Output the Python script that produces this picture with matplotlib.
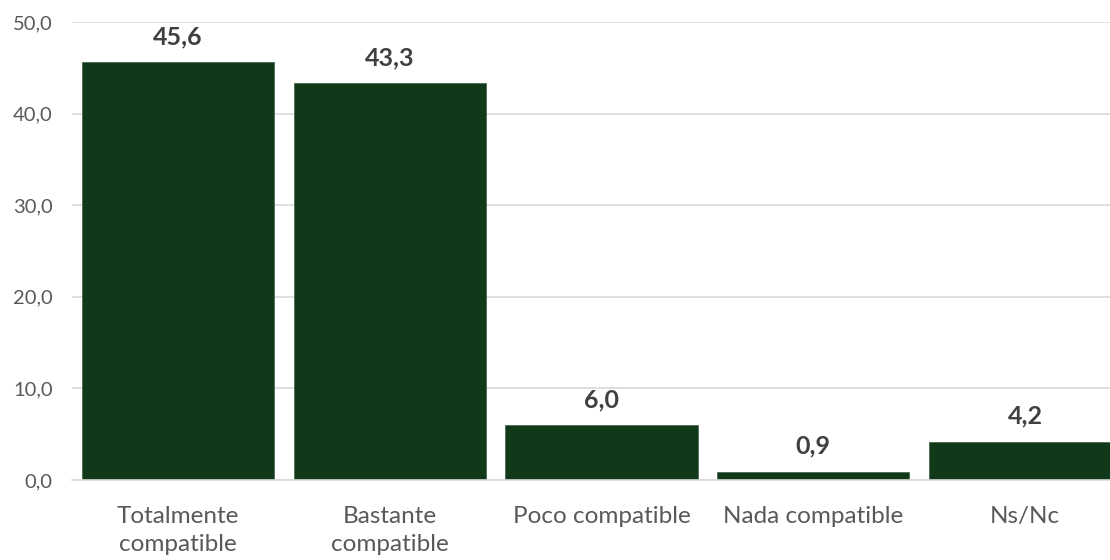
import matplotlib
matplotlib.use("Agg")
import matplotlib.pyplot as plt

categories = ["Totalmente\ncompatible", "Bastante\ncompatible", "Poco compatible", "Nada compatible", "Ns/Nc"]
values = [45.6, 43.3, 6.0, 0.9, 4.2]
yticks = [0, 10, 20, 30, 40, 50]

plt.rcParams['font.family'] = ['Lato', 'DejaVu Sans']

fig = plt.figure(figsize=(11.1, 5.6), dpi=100)
ax = fig.add_axes([72/1110, 80/560, 1059/1110, 458/560])

x = list(range(len(categories)))
bars = ax.bar(x, values, width=0.907, color='#12381A', edgecolor='#4a6a50', linewidth=0.6, zorder=3)

for xi, v in zip(x, values):
    ax.annotate(f"{v:.1f}".replace('.', ','), (xi, v), xytext=(0, 13), textcoords='offset points',
                ha='center', va='baseline', fontsize=18, fontweight='bold', color='#404040')

ax.set_xlim(-0.5, len(categories) - 0.5)
ax.set_ylim(0, 50)
ax.set_yticks(yticks)
ax.set_yticklabels([f"{t:.1f}".replace('.', ',') for t in yticks])
ax.set_xticks(x)
ax.set_xticklabels(categories, linespacing=1.4)

ax.grid(axis='y', color='#d9d9d9', linewidth=1.2, zorder=0)
ax.set_axisbelow(True)
for s in ['top', 'right', 'left']:
    ax.spines[s].set_visible(False)
ax.spines['bottom'].set_color('#d9d9d9')
ax.spines['bottom'].set_linewidth(1.2)
ax.spines['bottom'].set_zorder(4)

ax.tick_params(axis='y', length=0, pad=14, labelsize=14.5, labelcolor='#595959')
ax.tick_params(axis='x', length=0, pad=19, labelsize=17.5, labelcolor='#595959')

fig.savefig('out.png', dpi=100)
